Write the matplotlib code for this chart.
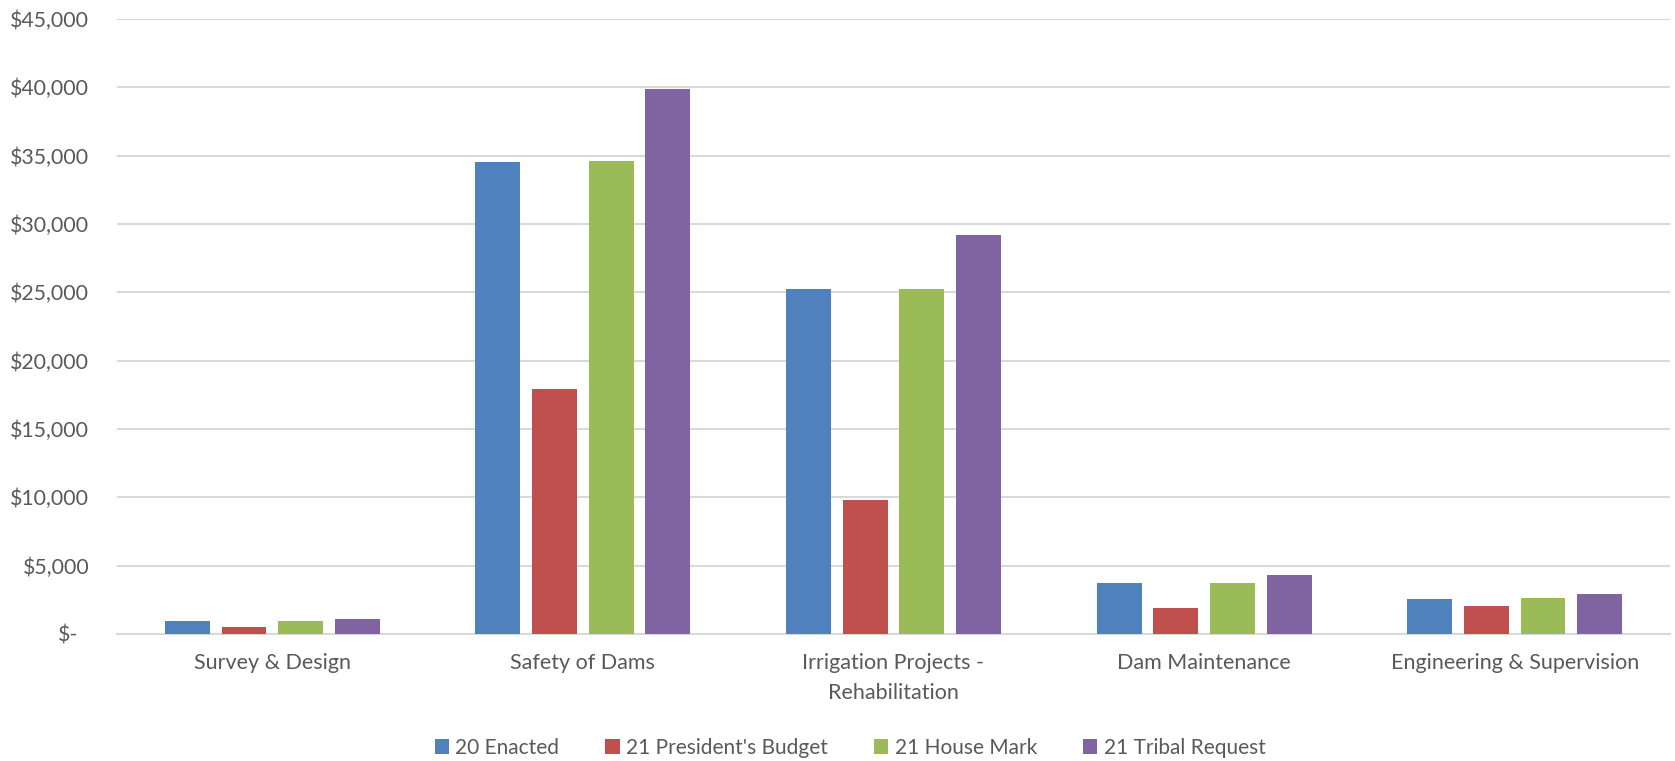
import matplotlib
matplotlib.use("Agg")
import matplotlib.pyplot as plt
import matplotlib.transforms as mtransforms
import numpy as np
from matplotlib.ticker import FuncFormatter

categories = ["Survey & Design", "Safety of Dams", "Irrigation Projects -\nRehabilitation",
              "Dam Maintenance", "Engineering & Supervision"]
series_names = ["20 Enacted", "21 President's Budget", "21 House Mark", "21 Tribal Request"]
enacted_20 = [950, 34540, 25240, 3700, 2560]
president_21 = [510, 17930, 9830, 1900, 2020]
house_21 = [950, 34630, 25240, 3700, 2600]
tribal_21 = [1100, 39880, 29200, 4290, 2940]
colors = ["#4F81BD", "#C0504D", "#9BBB59", "#8064A2"]
yticks = list(range(0, 45001, 5000))

plt.rcParams['font.family'] = ['Lato', 'DejaVu Sans']
W, H = 1675, 761
fig = plt.figure(figsize=(W / 100, H / 100), dpi=100)
ax = fig.add_axes([117 / W, 1 - 634 / H, (1670 - 117) / W, (634 - 19) / H])

x = np.arange(len(categories))
step = 0.1824
width = 0.1445
for i, (vals, name, c) in enumerate(zip([enacted_20, president_21, house_21, tribal_21], series_names, colors)):
    ax.bar(x + (i - 1.5) * step, vals, width=width, color=c, label=name, zorder=3)

ax.set_xlim(-0.5, len(categories) - 0.5)
ax.set_ylim(0, 45000)
ax.set_yticks(yticks)
ax.yaxis.set_major_formatter(FuncFormatter(lambda v, p: "$-" if v == 0 else "${:,.0f}".format(v)))
ax.set_xticks(x)
ax.set_xticklabels(categories, linespacing=1.6)
ax.grid(axis='y', color='#D9D9D9', linewidth=1.5, zorder=0)
for s in ['top', 'right', 'left']:
    ax.spines[s].set_visible(False)
ax.spines['bottom'].set_color('#D9D9D9')
ax.spines['bottom'].set_linewidth(1.5)
ax.tick_params(axis='y', length=0, colors='#595959', labelsize=15.3, pad=20)
ax.tick_params(axis='x', length=0, colors='#595959', labelsize=15.5, pad=14)

# shift the "$-" label left like Excel accounting format
zero_tick = ax.yaxis.get_major_ticks()[0]
lbl = zero_tick.label1
lbl.set_transform(lbl.get_transform() + mtransforms.ScaledTranslation(-11 / 100, 0, fig.dpi_scale_trans))

fig.legend(loc='center', bbox_to_anchor=(850 / W, 1 - 748 / H), ncol=4, frameon=False,
           fontsize=15, handlelength=0.7, handleheight=0.7, handletextpad=0.3,
           columnspacing=2.2, labelcolor='#595959')

fig.savefig("out.png", dpi=100)
